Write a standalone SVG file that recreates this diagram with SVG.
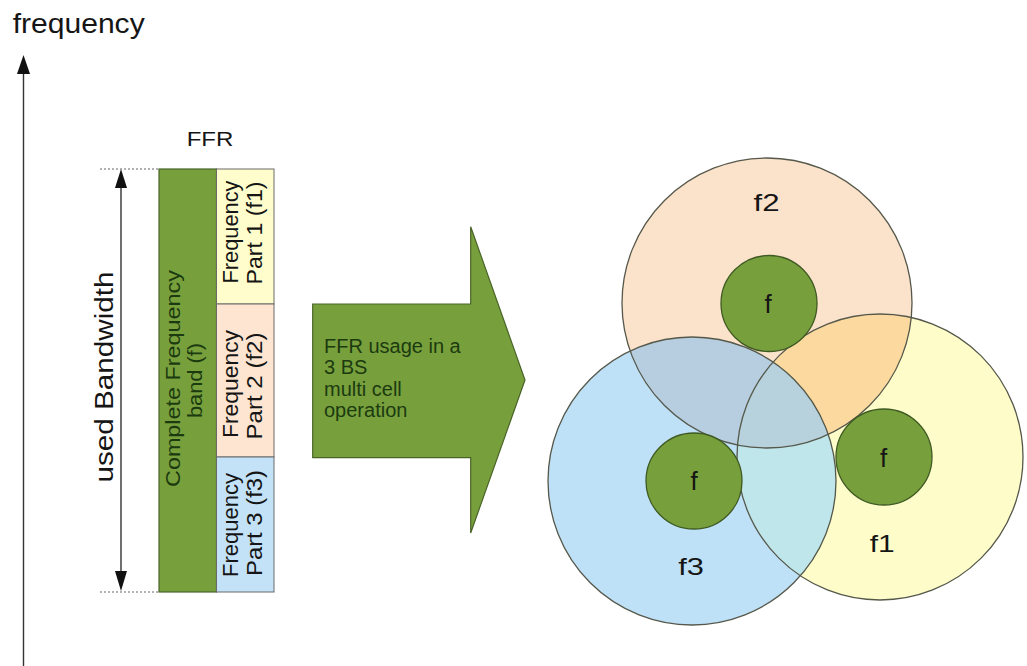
<svg xmlns="http://www.w3.org/2000/svg" width="1027" height="666" viewBox="0 0 1027 666">
<defs>
<style>
.t{font-family:"Liberation Sans",Arial,sans-serif;fill:#151515}
.tg{font-family:"Liberation Sans",Arial,sans-serif;fill:#1c3a10}
.part{stroke:#6a6a6a;stroke-width:1}
.cell{fill:none;stroke:#55584a;stroke-width:1.3}
.core{fill:#77a03c;stroke:#3f5a22;stroke-width:1.3}
.dot{stroke:#666;stroke-width:1.2;stroke-dasharray:2 2;fill:none}
.ax{stroke:#333;stroke-width:1.4;fill:none}
</style>
<clipPath id="c1"><circle cx="880" cy="457" r="143"/></clipPath>
<clipPath id="c2"><circle cx="767" cy="303" r="145"/></clipPath>
<clipPath id="c3"><circle cx="692" cy="481" r="144"/></clipPath>
</defs>
<rect width="1027" height="666" fill="#ffffff"/>

<g id="connectors">
<line class="ax" x1="23.5" y1="70" x2="23.5" y2="666"/>
<polygon points="23.5,55 17,74 30,74" fill="#111"/>
<line class="ax" x1="121" y1="185" x2="121" y2="573"/>
<polygon points="121,169 115,188 127,188" fill="#111"/>
<polygon points="121,591 115,571 127,571" fill="#111"/>
<line class="dot" x1="100" y1="169" x2="159" y2="169"/>
<line class="dot" x1="100" y1="592" x2="159" y2="592"/>
</g>

<g id="axis-label">
<text class="t" x="12.7" y="33" font-size="27" textLength="132" lengthAdjust="spacingAndGlyphs">frequency</text>
</g>
<g id="bandwidth-label">
<text class="t" transform="translate(113,377) rotate(-90)" text-anchor="middle" font-size="26" textLength="211" lengthAdjust="spacingAndGlyphs">used Bandwidth</text>
</g>
<g id="ffr-title">
<text class="t" x="186.7" y="145.7" font-size="20" textLength="46.7" lengthAdjust="spacingAndGlyphs">FFR</text>
</g>

<g id="complete-band">
<rect x="159" y="169" width="57.5" height="423" fill="#77a03c" stroke="#4a6428" stroke-width="1.2"/>
<text class="tg" transform="translate(180,378.5) rotate(-90)" text-anchor="middle" font-size="21" textLength="217" lengthAdjust="spacingAndGlyphs">Complete Frequency</text>
<text class="tg" transform="translate(202,380.5) rotate(-90)" text-anchor="middle" font-size="21" textLength="75" lengthAdjust="spacingAndGlyphs">band (f)</text>
</g>
<g id="part1">
<rect class="part" x="216.5" y="169" width="57.5" height="135" fill="#fefdcb"/>
<text class="t" transform="translate(237.5,232) rotate(-90)" text-anchor="middle" font-size="21.5" textLength="103" lengthAdjust="spacingAndGlyphs">Frequency</text>
<text class="t" transform="translate(262,233) rotate(-90)" text-anchor="middle" font-size="21.5" textLength="103" lengthAdjust="spacingAndGlyphs">Part 1 (f1)</text>
</g>
<g id="part2">
<rect class="part" x="216.5" y="304" width="57.5" height="153" fill="#fde5d1"/>
<text class="t" transform="translate(237.5,384) rotate(-90)" text-anchor="middle" font-size="21.5" textLength="108" lengthAdjust="spacingAndGlyphs">Frequency</text>
<text class="t" transform="translate(262,386) rotate(-90)" text-anchor="middle" font-size="21.5" textLength="107" lengthAdjust="spacingAndGlyphs">Part 2 (f2)</text>
</g>
<g id="part3">
<rect class="part" x="216.5" y="457" width="57.5" height="135" fill="#c4e2f7"/>
<text class="t" transform="translate(237.5,525) rotate(-90)" text-anchor="middle" font-size="21.5" textLength="104" lengthAdjust="spacingAndGlyphs">Frequency</text>
<text class="t" transform="translate(262,523) rotate(-90)" text-anchor="middle" font-size="21.5" textLength="106" lengthAdjust="spacingAndGlyphs">Part 3 (f3)</text>
</g>

<g id="big-arrow">
<polygon points="312.7,304 470.7,304 470.7,226.7 525,380 470.7,533 470.7,457.7 312.7,457.7" fill="#77a03c" stroke="#4a6428" stroke-width="1.2"/>
<text class="tg" x="324" y="352.5" font-size="20">FFR usage in a</text>
<text class="tg" x="324" y="374" font-size="20">3 BS</text>
<text class="tg" x="324" y="395.5" font-size="20">multi cell</text>
<text class="tg" x="324" y="417" font-size="20">operation</text>
</g>

<g id="cells">
<circle cx="767" cy="303" r="145" fill="#fbe2cb"/>
<circle cx="880" cy="457" r="143" fill="#fefdca"/>
<circle cx="692" cy="481" r="144" fill="#bfe1f7"/>
<circle cx="767" cy="303" r="145" fill="#fcda9f" clip-path="url(#c1)"/>
<circle cx="767" cy="303" r="145" fill="#b6cee0" clip-path="url(#c3)"/>
<circle cx="880" cy="457" r="143" fill="#bfe6ea" clip-path="url(#c3)"/>
<g clip-path="url(#c3)"><circle cx="767" cy="303" r="145" fill="#b7d2dc" clip-path="url(#c1)"/></g>
<circle class="cell" cx="767" cy="303" r="145"/>
<circle class="cell" cx="880" cy="457" r="143"/>
<circle class="cell" cx="692" cy="481" r="144"/>
</g>

<g id="cell-f2">
<text class="t" x="766.5" y="210.7" font-size="24" text-anchor="middle" textLength="26" lengthAdjust="spacingAndGlyphs">f2</text>
<circle class="core" cx="769" cy="303.5" r="48"/>
<text class="t" x="768" y="312.7" font-size="26" text-anchor="middle">f</text>
</g>
<g id="cell-f1">
<text class="t" x="882.3" y="551.7" font-size="24" text-anchor="middle" textLength="25" lengthAdjust="spacingAndGlyphs">f1</text>
<circle class="core" cx="884" cy="457" r="48"/>
<text class="t" x="883.5" y="466.7" font-size="26" text-anchor="middle">f</text>
</g>
<g id="cell-f3">
<text class="t" x="691" y="575" font-size="24" text-anchor="middle" textLength="25.7" lengthAdjust="spacingAndGlyphs">f3</text>
<circle class="core" cx="694" cy="481" r="48"/>
<text class="t" x="694" y="490" font-size="26" text-anchor="middle">f</text>
</g>
</svg>
